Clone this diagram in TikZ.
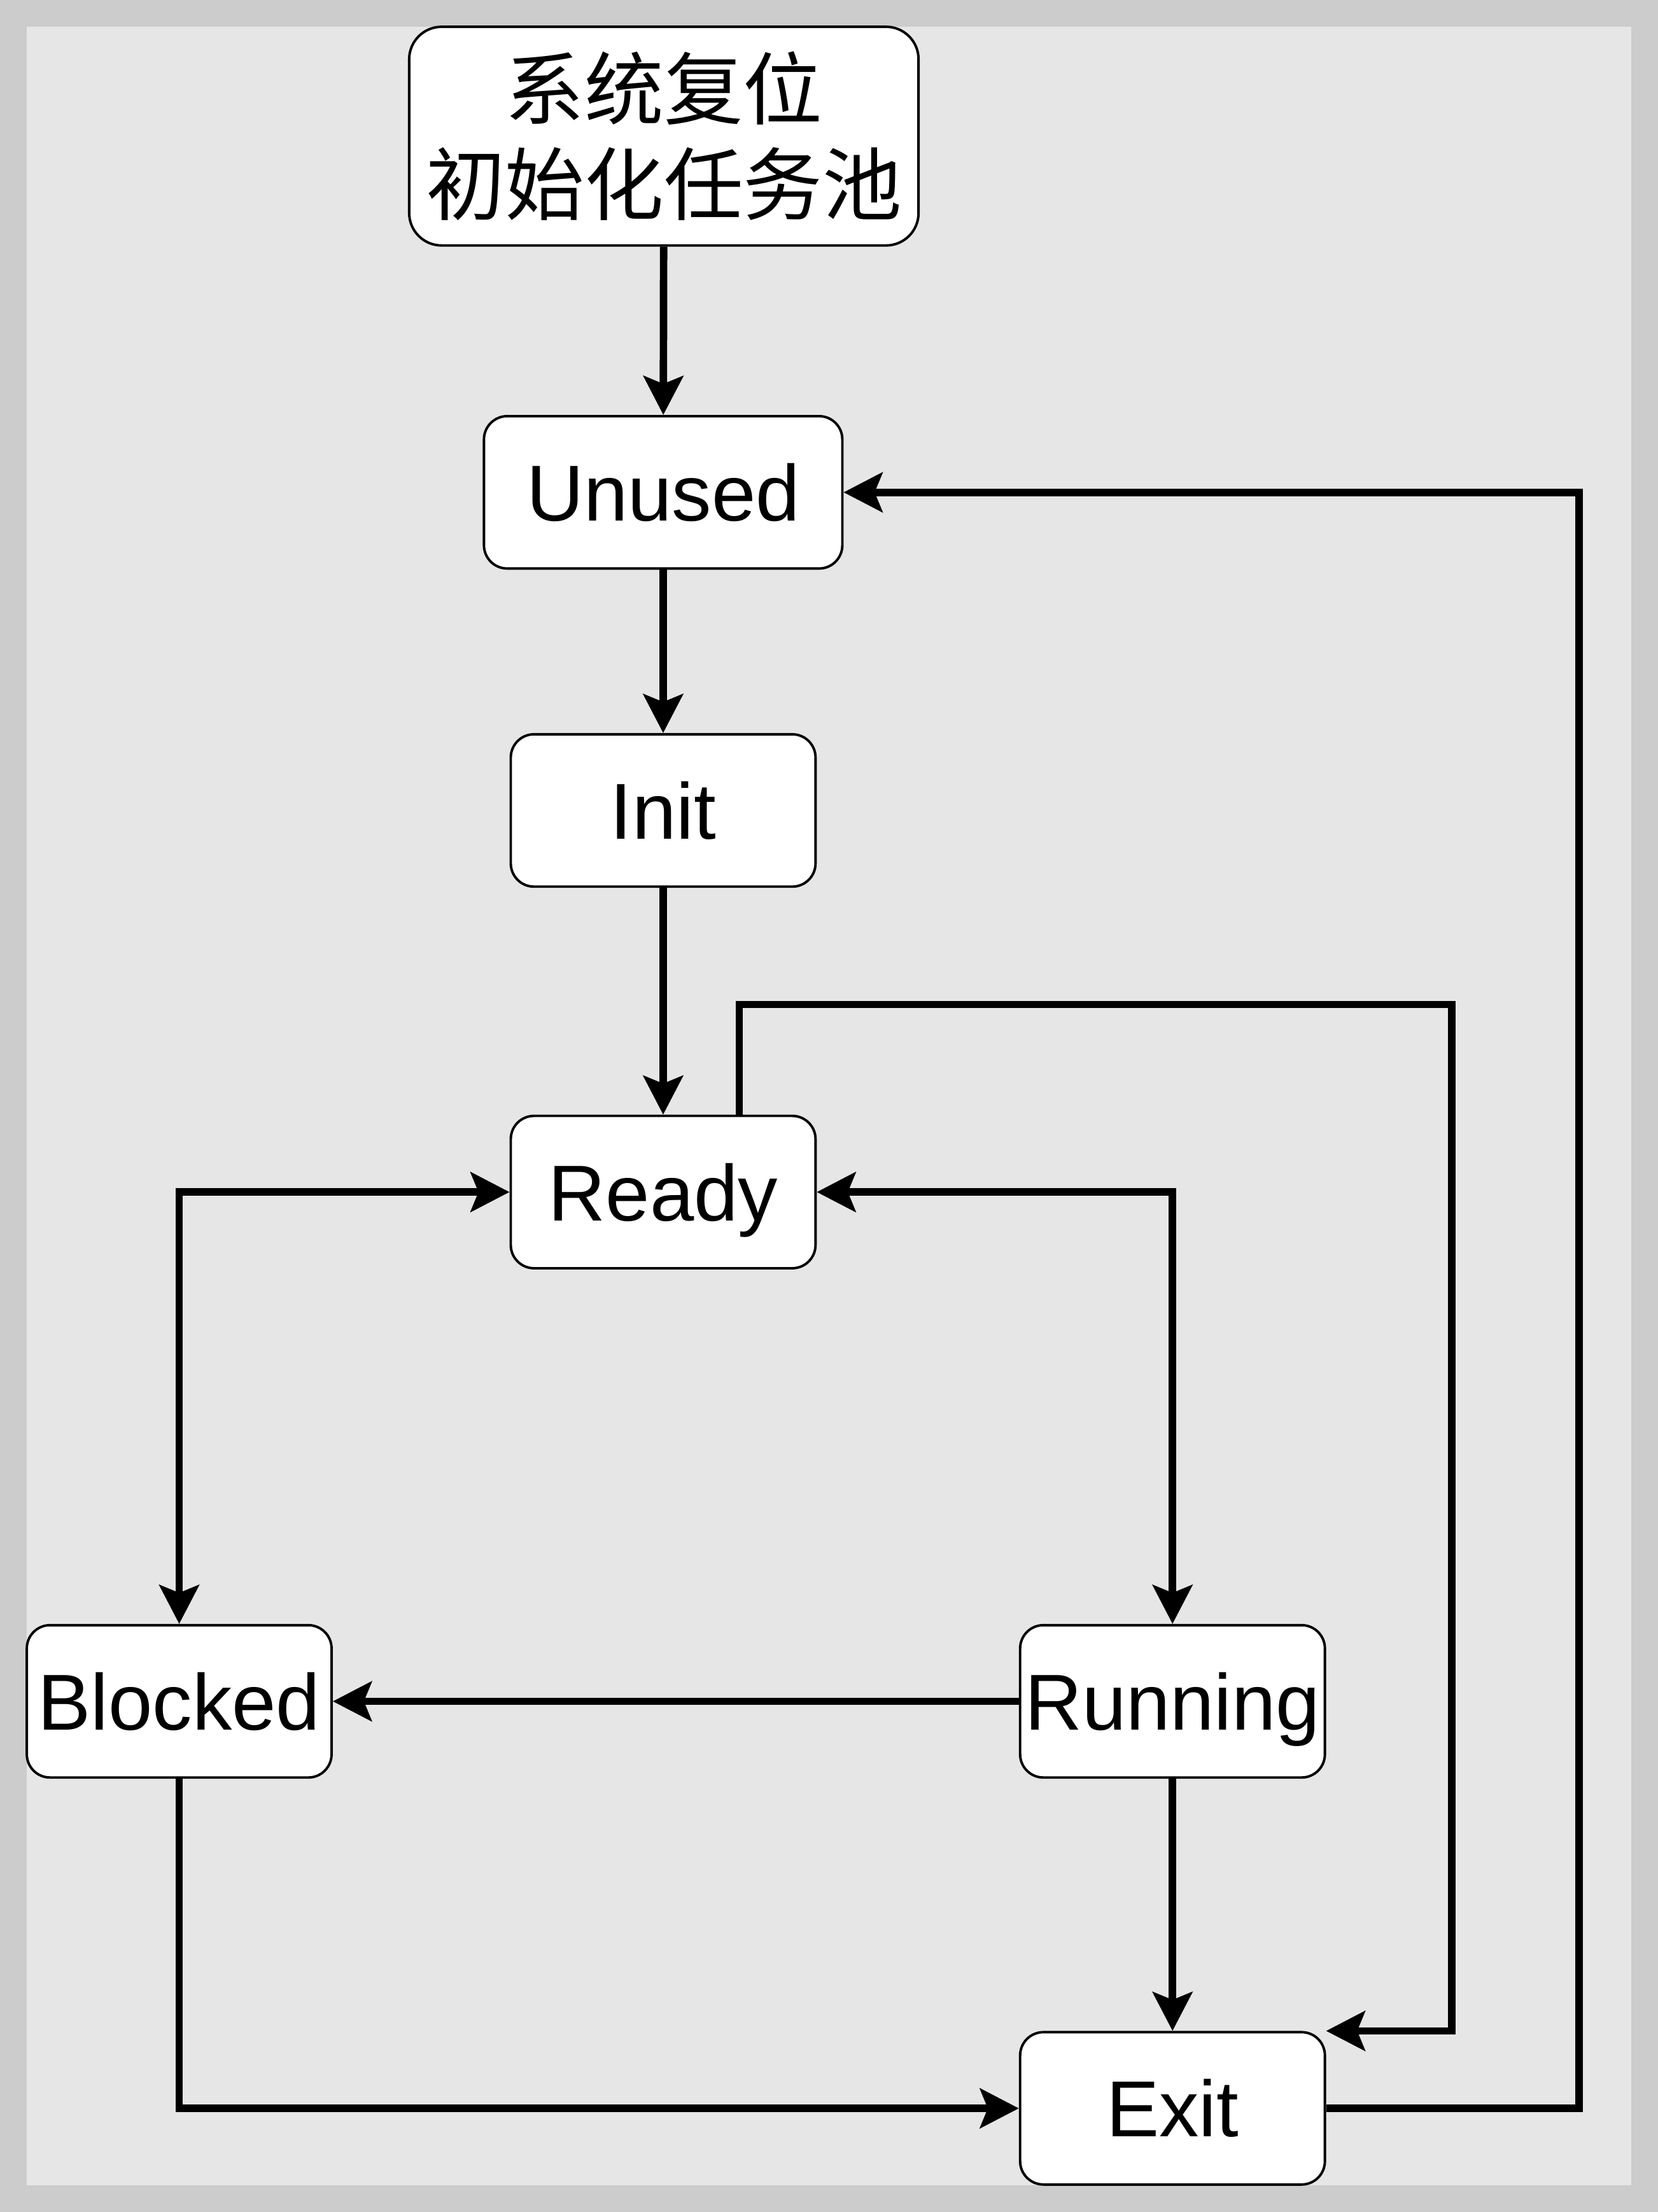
\documentclass[tikz,border=0pt]{standalone}
\usepackage{fontspec}
\setmainfont{Liberation Sans}
\newfontfamily\cjk{Noto Sans CJK SC}
\usepackage{tikz}
\usetikzlibrary{positioning,arrows.meta}
\definecolor{framecolor}{RGB}{204,204,204}
\definecolor{panelcolor}{RGB}{230,230,230}

\begin{document}
\begin{tikzpicture}[
  state/.style={draw, fill=white, line width=1pt, rounded corners=0.33cm, minimum height=2.16cm, minimum width=4.32cm, inner sep=0pt, font=\fontsize{32}{38}\selectfont, text height=23pt, text depth=0pt},
  arrow/.style={-{Stealth[length=0.55cm, width=0.56cm, inset=0.11cm]}, line width=3pt},
  biarrow/.style={{Stealth[length=0.55cm, width=0.56cm, inset=0.11cm]}-{Stealth[length=0.55cm, width=0.56cm, inset=0.11cm]}, line width=3pt},
]

% Background frame
\fill[framecolor] (0,0) rectangle (23.5,-31.36);
\fill[panelcolor] (0.38,-0.38) rectangle (23.12,-30.98);

% States
\node[draw, fill=white, line width=1pt, rounded corners=0.46cm, minimum width=7.22cm, minimum height=3.1cm, align=center, inner sep=0pt, font=\cjk\fontsize{32}{38.5}\selectfont] (s_reset) at (9.41,-1.93) {系统复位\\初始化任务池};
\node[state, minimum width=5.08cm] (s_unused) at (9.4,-6.98) {Unused};
\node[state] (s_init) at (9.4,-11.49) {Init};
\node[state] (s_ready) at (9.4,-16.9) {Ready};
\node[state] (s_blocked) at (2.54,-24.12) {Blocked};
\node[state] (s_running) at (16.62,-24.12) {Running};
\node[state] (s_exit) at (16.62,-29.89) {Exit};

% Bends of the long loops
\coordinate (c_back) at (22.38,-15);
\coordinate (c_kill) at (20.58,-14.24);

\draw[arrow] (s_reset) -- (s_unused);
\draw[arrow] (s_unused) -- (s_init);
\draw[arrow] (s_init) -- (s_ready);
\draw[biarrow] (s_ready.west) -| (s_blocked.north);
\draw[biarrow] (s_ready.east) -| (s_running.north);
\draw[arrow] (s_running) -- (s_blocked);
\draw[arrow] (s_running) -- (s_exit);
\draw[arrow] (s_blocked.south) |- (s_exit.west);
\draw[arrow] ([xshift=1.08cm]s_ready.north) |- (c_kill) |- (s_exit.north east);
\draw[arrow] (s_exit.east) -| (c_back) |- (s_unused.east);

\end{tikzpicture}
\end{document}
